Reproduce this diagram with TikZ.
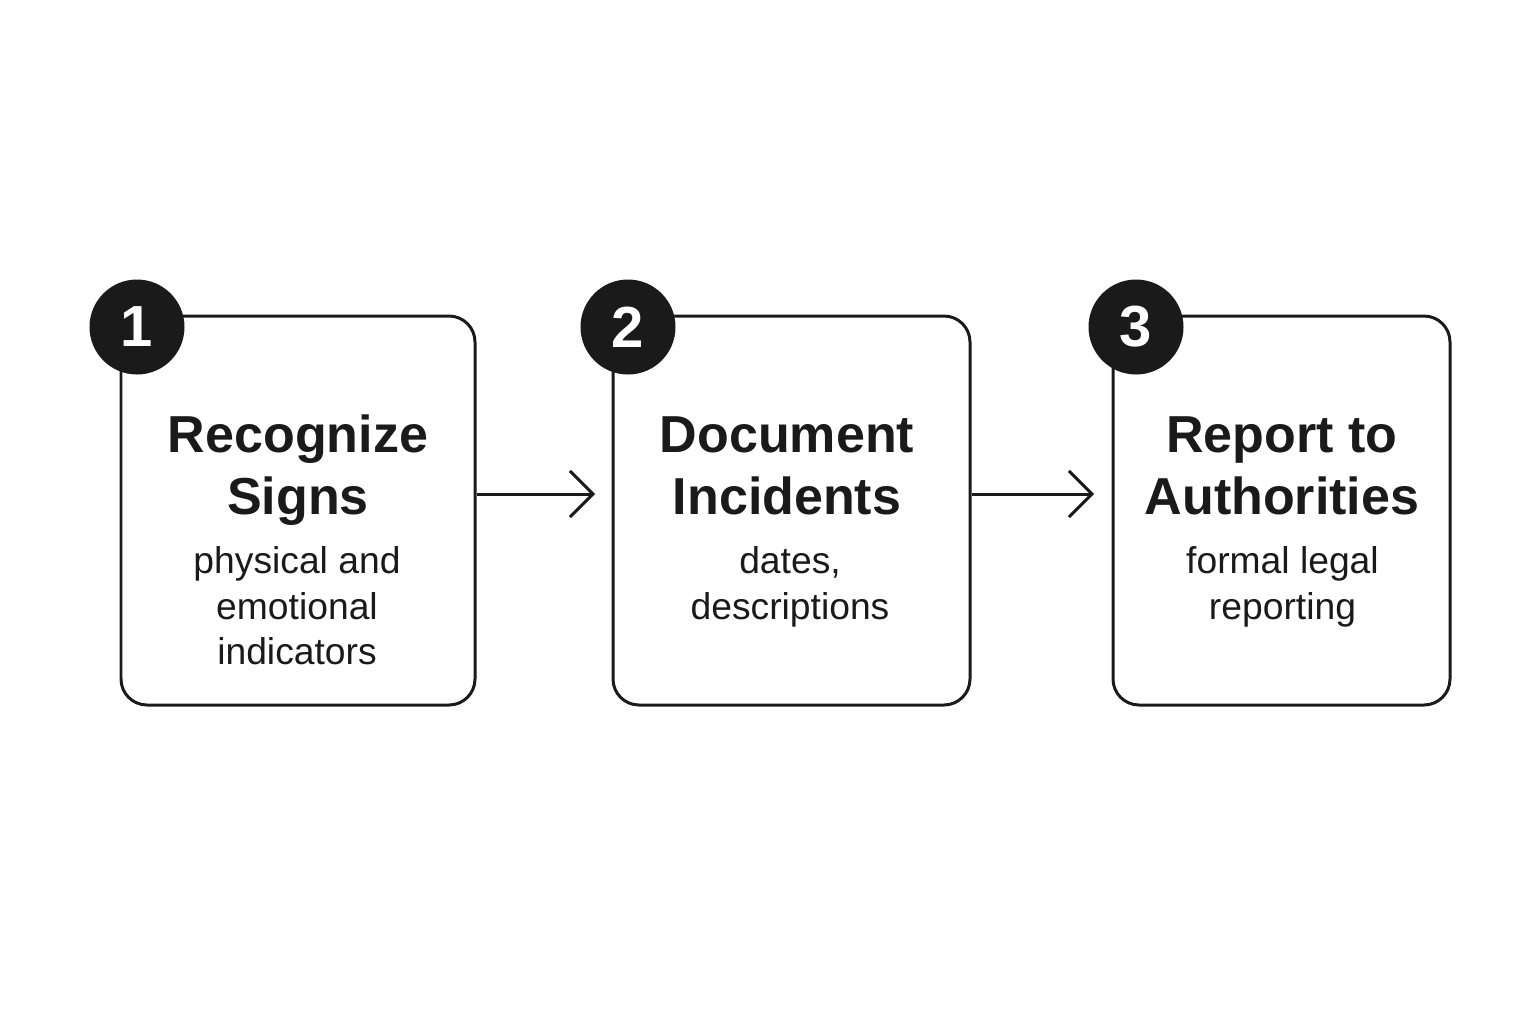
\documentclass[tikz,border=0pt]{standalone}
\usepackage{fontspec}
\setmainfont{Liberation Sans}
\usepackage{tikz}
\usetikzlibrary{arrows.meta,positioning,calc}

\definecolor{ink}{HTML}{1A1A1A}

\tikzset{
  stepbox/.style={draw=ink, line width=0.85pt, rounded corners=2.6mm,
    minimum height=3.89cm, inner sep=0pt},
  badge/.style={circle, fill=ink, minimum size=0.95cm, inner sep=0pt,
    text=white, font=\fontsize{16.5}{16.5}\selectfont\bfseries},
  title/.style={align=center, anchor=north, inner sep=0pt, text=ink,
    font=\fontsize{14.8}{17.6}\selectfont\bfseries},
  sub/.style={align=center, anchor=north, inner sep=0pt, text=ink,
    font=\fontsize{10.6}{12.9}\selectfont},
  flow/.style={draw=ink, line width=0.85pt,
    -{Straight Barb[length=2.3mm,width=4.6mm,line width=0.85pt]}}
}

\begin{document}
\begin{tikzpicture}[%
    x=1cm, y=1cm,
    node distance=4.935cm,
    on grid
  ]
  \useasboundingbox (0,0) rectangle (15.36,-10.24);

  % boxes
  \node[stepbox, minimum width=3.54cm] (b1) at (2.98,-5.105) {};
  \node[stepbox, minimum width=3.57cm] (b2) [right=of b1] {};
  \node[stepbox, minimum width=3.37cm] (b3) at (12.815,-5.105) {};

  % badges
  \node[badge] (n1) at (1.37,-3.27) {1};
  \node[badge] (n2) at (6.28,-3.27) {2};
  \node[badge] (n3) at (11.36,-3.27) {3};

  % texts
  \node[title] (t1) at (2.98,-4.087) {\strut Recognize\\\strut Signs};
  \node[sub] (s1) at (2.97,-5.413) {\strut physical and\\\strut emotional\\\strut indicators};
  \node[title] (t2) at (7.87,-4.087) {\strut Document\\\strut Incidents};
  \node[sub] (s2) at (7.90,-5.413) {\strut dates,\\\strut descriptions};
  \node[title] (t3) at (12.82,-4.087) {\strut Report to\\\strut Authorities};
  \node[sub] (s3) at (12.825,-5.413) {\strut formal legal\\\strut reporting};

  \coordinate (a0) at ($(b1.east)+(0,0.165)$);
  \coordinate (a1) at ($(b2.west)+(-0.165,0.165)$);
  \coordinate (a2) at ($(b2.east)+(0,0.165)$);
  \coordinate (a3) at ($(b3.west)+(-0.175,0.165)$);
  \draw[flow] (a0) -- (a1);
  \draw[flow] (a2) -- (a3);
\end{tikzpicture}
\end{document}
